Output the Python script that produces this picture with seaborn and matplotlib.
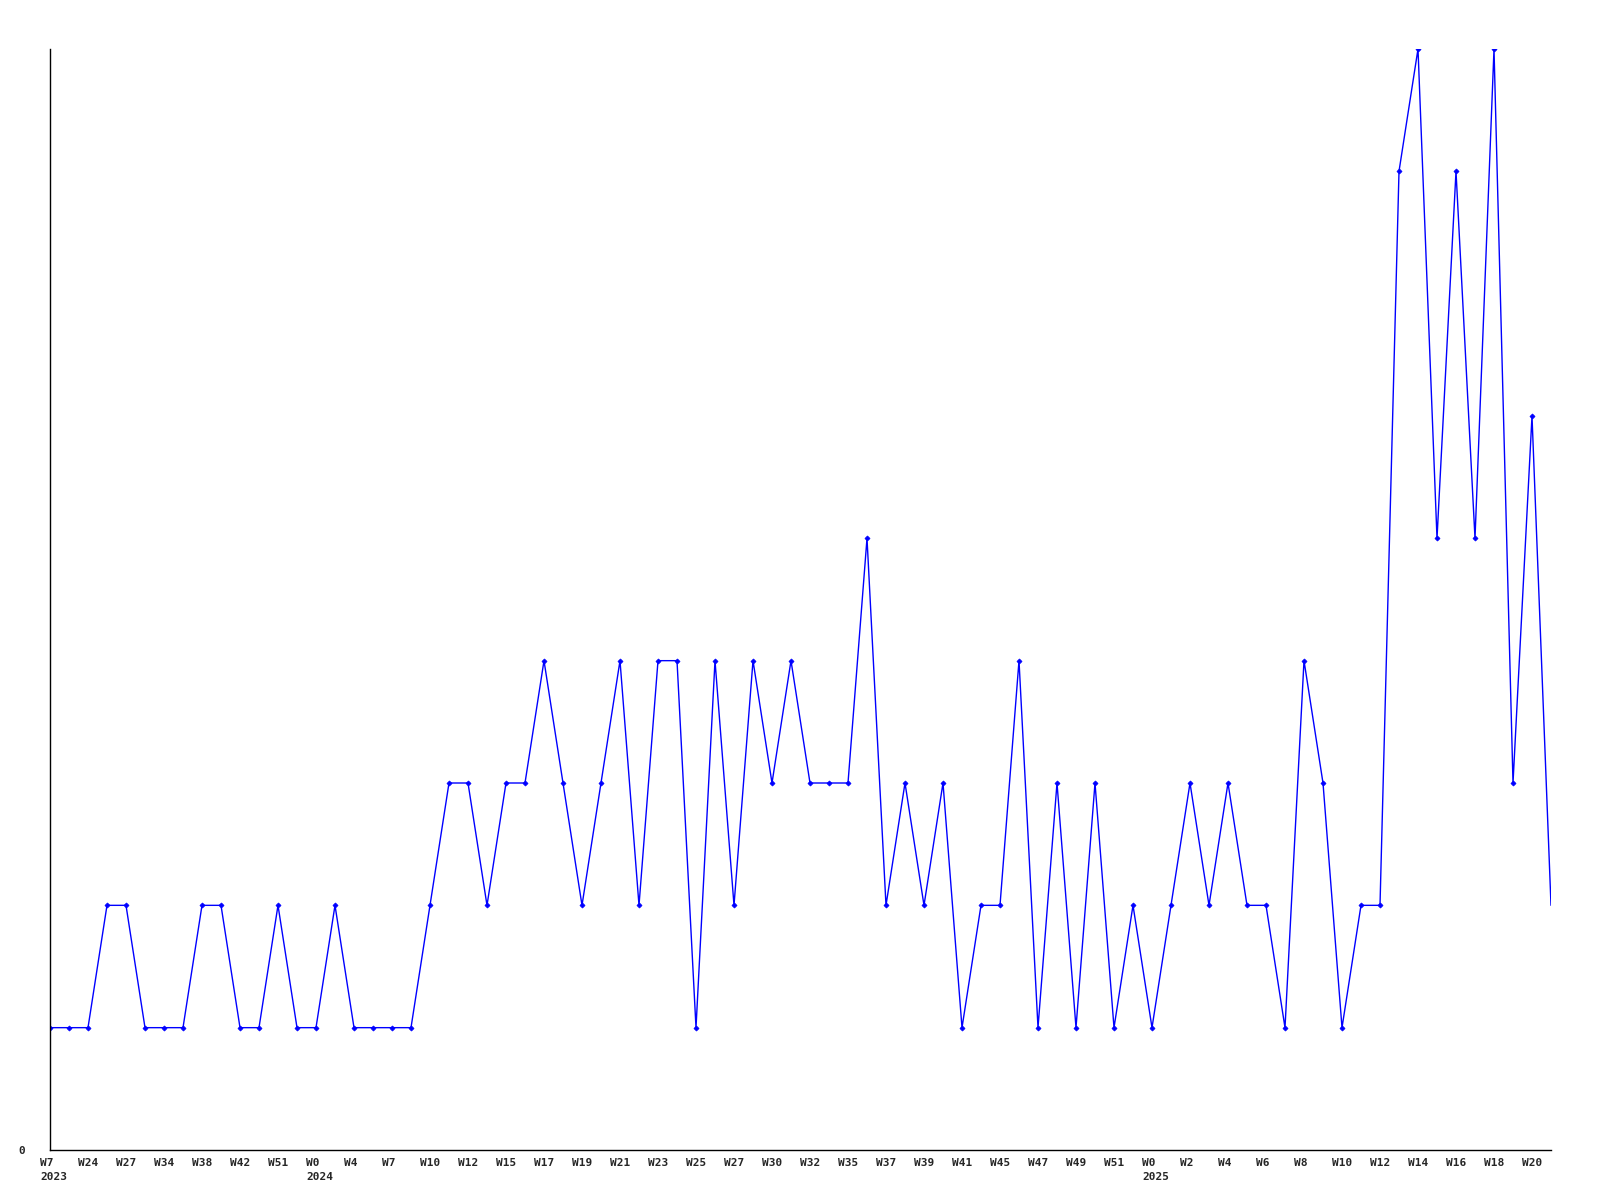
import matplotlib
matplotlib.use("Agg")
import matplotlib.pyplot as plt
import matplotlib.transforms as mtransforms
import seaborn as sns
import pandas as pd

values = [1, 1, 1, 2, 2, 1, 1, 1, 2, 2,
          1, 1, 2, 1, 1, 2, 1, 1, 1, 1,
          2, 3, 3, 2, 3, 3, 4, 3, 2, 3,
          4, 2, 4, 4, 1, 4, 2, 4, 3, 4,
          3, 3, 3, 5, 2, 3, 2, 3, 1, 2,
          2, 4, 1, 3, 1, 3, 1, 2, 1, 2,
          3, 2, 3, 2, 2, 1, 4, 3, 1, 2,
          2, 8, 9, 5, 8, 5, 9, 3, 6, 2]

tick_labels = ["W7\n2023", "W24", "W27", "W34", "W38", "W42", "W51", "W0\n2024", "W4", "W7",
               "W10", "W12", "W15", "W17", "W19", "W21", "W23", "W25", "W27", "W30",
               "W32", "W35", "W37", "W39", "W41", "W45", "W47", "W49", "W51", "W0\n2025",
               "W2", "W4", "W6", "W8", "W10", "W12", "W14", "W16", "W18", "W20"]

sns.set_theme(style="white")
plt.rcParams['font.family'] = ['DejaVu Sans Mono', 'DejaVu Sans']

df = pd.DataFrame({"idx": list(range(len(values))), "count": values})

fig = plt.figure(figsize=(16, 12), dpi=100)
ax = fig.add_axes([50 / 1600, 50 / 1200, 1501 / 1600, 1101 / 1200])

sns.lineplot(data=df, x="idx", y="count", ax=ax, color="#0000ff", linewidth=1.0,
             marker="D", markersize=2.6, markeredgewidth=0.5, markeredgecolor="#0000ff",
             markevery=list(range(len(values) - 1)))

ax.set_xlim(0, len(values) - 1)
ax.set_ylim(0, 9)
ax.set_xlabel("")
ax.set_ylabel("")

ax.set_xticks(list(range(0, len(values), 2)))
ax.set_xticklabels(tick_labels, fontsize=8, fontweight="bold", ha="left", va="top",
                   linespacing=1.4)

ax.set_yticks([0])
ax.set_yticklabels(["0"], fontsize=8, fontweight="bold")

ax.tick_params(axis="x", length=0, pad=6)
ax.tick_params(axis="y", length=0, pad=18)

for side in ["top", "right"]:
    ax.spines[side].set_visible(False)
for side in ["left", "bottom"]:
    ax.spines[side].set_color("black")
    ax.spines[side].set_linewidth(1.0)

ax.grid(False)
ax.set_facecolor("white")
fig.patch.set_facecolor("white")

fig.canvas.draw()
offset = mtransforms.ScaledTranslation(-10 / 100, 0, fig.dpi_scale_trans)
for tick in ax.xaxis.get_major_ticks():
    tick.label1.set_transform(tick.label1.get_transform() + offset)

fig.savefig("out.png", dpi=100)
